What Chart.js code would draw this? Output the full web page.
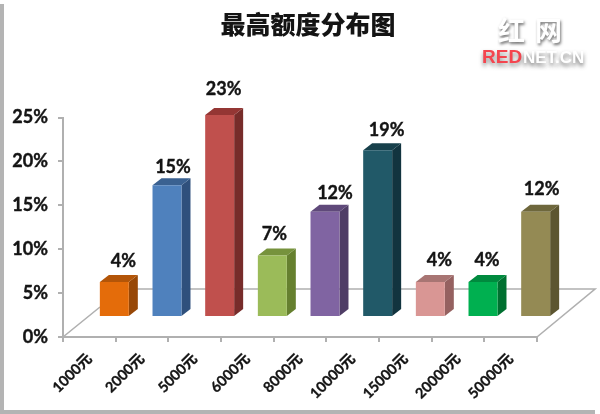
<!DOCTYPE html>
<html lang="zh"><head><meta charset="utf-8">
<style>html,body{margin:0;padding:0;background:#fff}#w{position:relative;width:600px;height:414px;overflow:hidden}</style>
<script src="https://cdn.jsdelivr.net/npm/chart.js@4"></script>
</head><body><div id="w"><canvas id="c" width="600" height="414"></canvas></div>
<script>
const categories = ['1000元','2000元','5000元','6000元','8000元','10000元','15000元','20000元','50000元'];
const shares = [4,15,23,7,12,19,4,4,12];
const yTicks = [0,5,10,15,20,25];
const frontColors = ['#E46C0A','#4F81BD','#C0504D','#9BBB59','#8064A2','#215968','#D99694','#00B050','#948A54'];
const topColors   = ['#B35508','#3A6191','#943634','#76923C','#5F497A','#17404B','#A87573','#008A3E','#6E673C'];
const sideColors  = ['#984807','#2F507C','#772C2A','#66802F','#4F3D66','#12343F','#956160','#007030','#5C5530'];
const FONT = 'Lato, "Noto Sans CJK SC", sans-serif';
const CJK  = '"Noto Sans CJK SC", sans-serif';
const INK = '#141414', AXIS = '#b0b0b0';
const barShift = {x:25, y:-20}, barDepth = {x:9, y:-7}, floorDepth = {x:58, y:-48};
const labelNudge = [[9,-21],[6,-18],[4,-26],[2,-21],[10,-18],[9,-20],[9,-22],[4,-22],[6,-22]];

function shadowText(ctx, s, x, y, shadow, blur, dx, dy){
  ctx.shadowColor = shadow; ctx.shadowBlur = blur; ctx.shadowOffsetX = dx; ctx.shadowOffsetY = dy;
  ctx.fillText(s, x, y);
  ctx.shadowColor = 'transparent'; ctx.shadowBlur = 0; ctx.shadowOffsetX = 0; ctx.shadowOffsetY = 0;
}
const scene = {
  id:'scene',
  beforeDraw(chart){
    const {ctx} = chart;
    ctx.save();
    ctx.fillStyle = '#fff'; ctx.fillRect(0,0,600,414);
    ctx.fillStyle = '#b4b4b4';
    ctx.fillRect(0,4,4,410);
    ctx.fillRect(0,410,595,4);
    ctx.restore();
  },
  beforeDatasetsDraw(chart){
    const {ctx, chartArea:a} = chart;
    const b = a.bottom;
    ctx.save();
    ctx.strokeStyle = AXIS; ctx.lineWidth = 1.6;
    ctx.beginPath();
    ctx.moveTo(a.left, b);
    ctx.lineTo(a.left+floorDepth.x-21, b+floorDepth.y+18);
    ctx.moveTo(a.left+floorDepth.x-21, b+floorDepth.y);
    ctx.lineTo(a.right+floorDepth.x, b+floorDepth.y);
    ctx.lineTo(a.right, b);
    ctx.stroke();
    ctx.restore();
    ctx.save();
    ctx.translate(barShift.x, barShift.y);
    chart.getDatasetMeta(0).data.forEach((el,i)=>{
      const p = el.getProps(['x','y','base','width'],true);
      const l = p.x-p.width/2, r = p.x+p.width/2;
      ctx.fillStyle = sideColors[i];
      ctx.beginPath();
      ctx.moveTo(r,p.y); ctx.lineTo(r+barDepth.x,p.y+barDepth.y);
      ctx.lineTo(r+barDepth.x,p.base+barDepth.y); ctx.lineTo(r,p.base);
      ctx.closePath(); ctx.fill();
      ctx.fillStyle = topColors[i];
      ctx.beginPath();
      ctx.moveTo(l,p.y); ctx.lineTo(l+barDepth.x,p.y+barDepth.y);
      ctx.lineTo(r+barDepth.x,p.y+barDepth.y); ctx.lineTo(r,p.y);
      ctx.closePath(); ctx.fill();
    });
  },
  afterDatasetsDraw(chart){
    const {ctx} = chart;
    ctx.restore();
    ctx.save();
    ctx.font = 'bold 18px '+FONT; ctx.fillStyle = INK; ctx.strokeStyle = INK; ctx.lineWidth = .4;
    ctx.textAlign = 'center'; ctx.textBaseline = 'middle';
    chart.getDatasetMeta(0).data.forEach((el,i)=>{
      const p = el.getProps(['x','y'],true);
      const tx = p.x+barShift.x+labelNudge[i][0], ty = p.y+barShift.y+labelNudge[i][1];
      ctx.fillText(shares[i]+'%', tx, ty);
      ctx.strokeText(shares[i]+'%', tx, ty);
    });
    ctx.restore();
    // watermark
    ctx.save();
    ctx.textBaseline = 'middle'; ctx.textAlign = 'left';
    ctx.font = 'bold 27px '+CJK; ctx.fillStyle = '#fff';
    shadowText(ctx,'红',498,31,'rgba(90,90,90,.85)',3,1,2);
    shadowText(ctx,'网',535,31,'rgba(90,90,90,.85)',3,1,2);
    ctx.font = 'bold 19px "Liberation Sans", sans-serif';
    ctx.fillStyle = '#F4454F';
    shadowText(ctx,'RED',482,58,'rgba(90,90,90,.7)',4,0,3);
    ctx.font = 'bold 17px "Liberation Sans", sans-serif';
    ctx.fillStyle = '#fff';
    shadowText(ctx,'NET.CN',523,58,'rgba(90,90,90,.85)',4,0,3);
    ctx.restore();
  }
};
new Chart(document.getElementById('c'),{
  type:'bar',
  data:{labels:categories,datasets:[{
    data:shares, backgroundColor:frontColors, borderWidth:0,
    barPercentage:.55, categoryPercentage:1
  }]},
  plugins:[scene],
  options:{
    responsive:false, animation:false, devicePixelRatio:1,
    layout:{padding:{top:9,left:0,right:-16,bottom:0}},
    plugins:{
      legend:{display:false}, tooltip:{enabled:false},
      title:{display:true,text:'最高额度分布图',color:INK,
        font:{family:CJK,size:25,weight:'900',lineHeight:1.2},
        padding:{top:0,bottom:78.5}}
    },
    scales:{
      x:{
        afterFit(s){s.height=77},
        border:{color:AXIS,width:2},
        grid:{drawOnChartArea:false,color:AXIS,tickLength:5,lineWidth:2,offset:true},
        ticks:{color:INK,font:{family:FONT,size:14.5,weight:'bold'},minRotation:45,maxRotation:45,padding:8,autoSkip:false,textStrokeColor:INK,textStrokeWidth:.3}
      },
      y:{
        min:0,max:25,
        afterFit(s){s.width=63},
        afterBuildTicks(s){s.ticks=yTicks.map(v=>({value:v}))},
        border:{color:AXIS,width:2},
        grid:{drawOnChartArea:false,color:AXIS,tickLength:5,lineWidth:2},
        ticks:{color:INK,font:{family:FONT,size:18,weight:'bold'},padding:10,callback:v=>v+'%',textStrokeColor:INK,textStrokeWidth:.4}
      },
      spacer:{
        position:'right',
        afterFit(s){s.width=79},
        border:{display:false}, grid:{display:false}, ticks:{display:false}
      }
    }
  }
});
</script></body></html>
